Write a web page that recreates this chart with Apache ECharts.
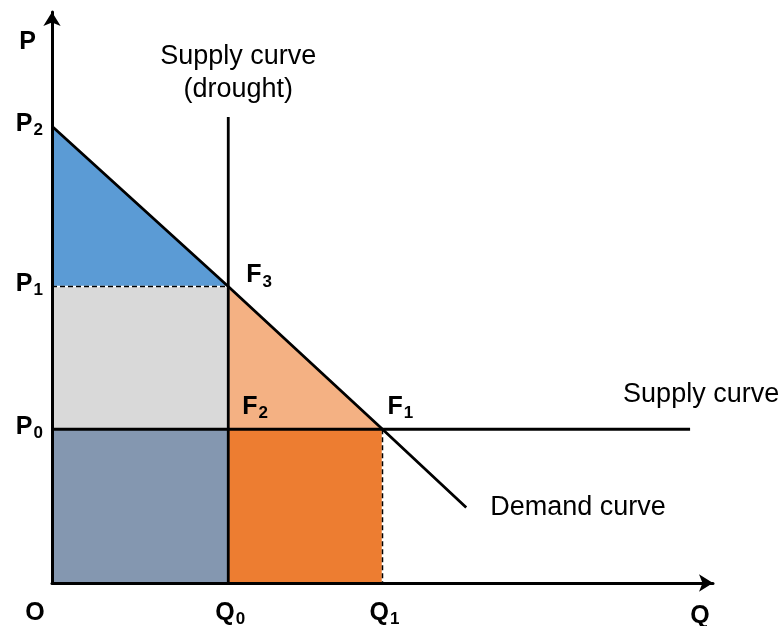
<!DOCTYPE html>
<html>
<head>
<meta charset="utf-8">
<script src="https://cdn.jsdelivr.net/npm/echarts@6/dist/echarts.min.js"></script>
<style>
html,body{margin:0;padding:0;background:#fff;}
#main{width:779px;height:626px;}
</style>
</head>
<body>
<div id="main"></div>
<script>
// 坐标刻度（数量 Q，价格 P）
var qTicks = [0, 4, 7.5];
var qNames = ['O', '0', '1'];
var pTicks = [3.5, 6.75, 10.4];
var pNames = ['0', '1', '2'];

// 曲线
var demandCurve = [[0, 10.4], [4, 6.75], [7.5, 3.5], [9.4, 1.72]];
var supplyCurve = [[0, 3.5], [14.48, 3.5]];
var droughtSupply = [[4, 0], [4, 10.61]];
var p1Dashed = [[0, 6.75], [4, 6.75]];
var q1Dashed = [[7.5, 3.5], [7.5, 0]];

// 交点 F1 F2 F3
var fPoints = [[7.5, 3.5], [4, 3.5], [4, 6.75]];
var fNames = ['1', '2', '3'];

// 色块
var blueTriangle = [[0, 10.4], [4, 6.75], [0, 6.75]];
var grayRect = [[0, 6.75], [4, 6.75], [4, 3.5], [0, 3.5]];
var slateRect = [[0, 3.5], [4, 3.5], [4, 0], [0, 0]];
var peachTriangle = [[4, 6.75], [7.5, 3.5], [4, 3.5]];
var orangeRect = [[4, 3.5], [7.5, 3.5], [7.5, 0], [4, 0]];

var FONT = '"Liberation Sans", Arial, sans-serif';
var richSub = {
    b: {fontSize: 25, fontWeight: 'bold', fontFamily: FONT, color: '#000', lineHeight: 30},
    s: {fontSize: 17, fontWeight: 'bold', fontFamily: FONT, color: '#000', lineHeight: 17, verticalAlign: 'bottom', padding: [0, 0, 0, 1]},
    o: {fontSize: 25, fontWeight: 'bold', fontFamily: FONT, color: '#000', lineHeight: 30, padding: [0, 38, 0, 0]}
};

function polygonSeries(pts, color){
    return {
        type: 'custom',
        data: pts,
        encode: {x: 0, y: 1},
        silent: true,
        z: 1,
        renderItem: function(params, api){
            if(params.dataIndex !== 0) return null;
            var shapePts = pts.map(function(p){ return api.coord(p); });
            return {type: 'polygon', shape: {points: shapePts}, style: {fill: color}};
        }
    };
}

function lineSeries(pts, width, color, type, z){
    return {
        type: 'line',
        data: pts,
        symbol: 'none',
        silent: true,
        z: z,
        lineStyle: {color: color, width: width, type: type || 'solid'}
    };
}

var chart = echarts.init(document.getElementById('main'));
var option = {
    animation: false,
    backgroundColor: '#fff',
    grid: {left: 52, right: 66, top: 12, bottom: 43, outerBoundsMode: 'none'},
    xAxis: {
        type: 'value', min: 0, max: 15, z: 10,
        name: 'Q', nameLocation: 'end', nameGap: -13,
        nameTextStyle: {fontSize: 25, fontWeight: 'bold', fontFamily: FONT, color: '#000', align: 'center', verticalAlign: 'top', padding: [21, 0, 0, 0]},
        axisLine: {show: true, symbol: ['none', 'arrow'], symbolSize: [13, 14], lineStyle: {color: '#000', width: 3}},
        axisTick: {show: false},
        splitLine: {show: false},
        axisLabel: {
            customValues: qTicks, margin: 15, rich: richSub,
            formatter: function(v){
                var i = qTicks.indexOf(v);
                if(i === 0) return '{o|O}';
                return '{b|Q}{s|' + qNames[i] + '}';
            },
            padding: [0, 0, 0, 4]
        }
    },
    yAxis: {
        type: 'value', min: 0, max: 13, z: 10,
        name: 'P', nameLocation: 'end', nameGap: -30,
        nameTextStyle: {fontSize: 25, fontWeight: 'bold', fontFamily: FONT, color: '#000', align: 'right', verticalAlign: 'middle', padding: [0, 16, 0, 0]},
        axisLine: {show: true, symbol: ['none', 'arrow'], symbolSize: [13, 14], lineStyle: {color: '#000', width: 3}},
        axisTick: {show: false},
        splitLine: {show: false},
        axisLabel: {
            customValues: pTicks, margin: 9, rich: richSub, padding: [0, 0, 5, 0],
            formatter: function(v){
                var i = pTicks.indexOf(v);
                return '{b|P}{s|' + pNames[i] + '}';
            }
        }
    },
    series: [
        polygonSeries(blueTriangle, '#5B9BD5'),
        polygonSeries(grayRect, '#D9D9D9'),
        polygonSeries(slateRect, '#8497B0'),
        polygonSeries(peachTriangle, '#F4B183'),
        polygonSeries(orangeRect, '#ED7D31'),
        lineSeries(p1Dashed, 1.5, '#fff', 'solid', 2),
        lineSeries(q1Dashed, 1.5, '#fff', 'solid', 2),
        lineSeries(p1Dashed, 1.5, '#000', [5, 3], 3),
        lineSeries(q1Dashed, 1.5, '#000', [5, 3], 3),
        {
            type: 'line', data: demandCurve, symbol: 'none', silent: true, z: 4,
            lineStyle: {color: '#000', width: 2.8},
            endLabel: {show: true, formatter: 'Demand curve', distance: 24, fontSize: 27, fontFamily: FONT, color: '#000'}
        },
        {
            type: 'line', data: supplyCurve, symbol: 'none', silent: true, z: 4,
            lineStyle: {color: '#000', width: 2.8},
            endLabel: {show: true, formatter: 'Supply curve', distance: 0, offset: [-67, -35], fontSize: 27, fontFamily: FONT, color: '#000'}
        },
        {
            type: 'line', data: droughtSupply, symbol: 'none', silent: true, z: 4,
            lineStyle: {color: '#000', width: 2.8},
            endLabel: {show: true, formatter: 'Supply curve\n(drought)', fontSize: 27, lineHeight: 33, fontFamily: FONT, color: '#000', align: 'center', verticalAlign: 'bottom', offset: [2, -11]}
        },
        {
            type: 'scatter', data: fPoints, symbolSize: 0, silent: true, z: 5,
            itemStyle: {opacity: 1},
            label: {
                show: true, rich: richSub, color: '#000', align: 'left', verticalAlign: 'middle',
                formatter: function(p){ return '{b|F}{s|' + fNames[p.dataIndex] + '}'; },
                position: function(){ return [0, 0]; }
            },
            labelLayout: function(params){
                var off = [[5, -22], [14, -22], [18, -11]][params.dataIndex];
                return {x: params.rect.x + off[0], y: params.rect.y + off[1], align: 'left', verticalAlign: 'middle'};
            }
        }
    ]
};
chart.setOption(option);
</script>
</body>
</html>
